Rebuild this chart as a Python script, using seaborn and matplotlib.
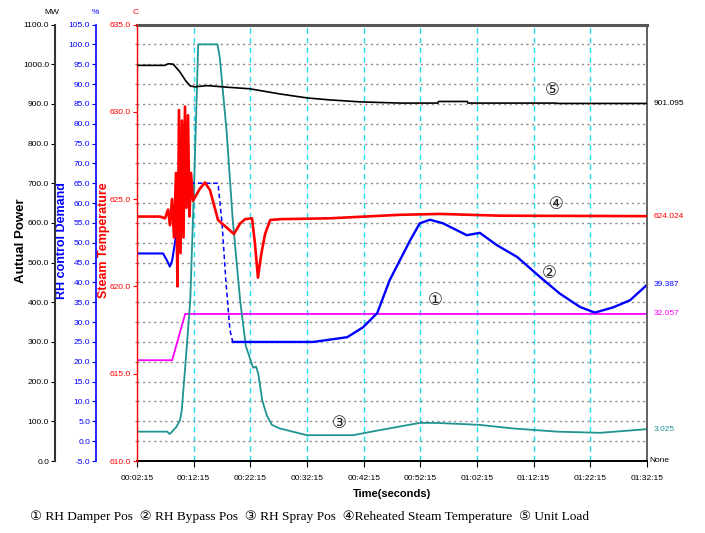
import matplotlib
matplotlib.use("Agg")
import matplotlib.pyplot as plt
import seaborn as sns
from matplotlib import font_manager
from matplotlib.ticker import MultipleLocator, FixedLocator, FormatStrFormatter

# ---------------- data (minutes after 00:02:15) ----------------
tick_minutes = [0, 10, 20, 30, 40, 50, 60, 70, 80, 90]
tick_labels = ["00:02:15", "00:12:15", "00:22:15", "00:32:15", "00:42:15",
               "00:52:15", "01:02:15", "01:12:15", "01:22:15", "01:32:15"]

load_t = [0, 4.9, 5.5, 6.4, 7.6, 8.6, 9.4, 10.2, 12.4, 15.9, 19.9, 25.2, 30.0,
          34.0, 39.4, 46.4, 53.1, 53.2, 58.3, 58.4, 74.0, 74.1, 90]
load_mw = [997, 997, 1001, 1000, 980, 958, 945, 943, 946, 942, 938, 925, 915,
           910, 905, 902, 902, 906, 906, 902, 902, 901.1, 901.095]

temp_t = [0, 4.06, 4.94, 5.47, 5.82, 6.18, 6.53, 6.88, 7.15, 7.41, 7.68, 7.94,
          8.21, 8.47, 8.74, 9.0, 9.26, 9.53, 9.88, 11.1, 12.0, 12.9, 14.3, 15.9,
          17.1, 18.2, 19.06, 20.3, 20.8, 21.35, 21.9, 22.6, 23.5, 25.2, 34.0,
          46.4, 53.5, 64.0, 90]
temp_c = [624.0, 624.0, 623.9, 624.4, 623.5, 625.0, 622.8, 626.5, 620.0, 630.1,
          621.9, 629.5, 622.8, 630.3, 624.5, 629.8, 624.0, 626.5, 624.9, 625.6,
          625.95, 625.5, 623.8, 623.35, 623.0, 623.6, 623.85, 623.9, 622.5,
          620.5, 621.8, 623.0, 623.8, 623.85, 623.9, 624.1, 624.15, 624.05,
          624.024]

bypass_t = [0, 4.6, 5.3, 5.8, 6.2, 6.7, 7.2, 7.8, 8.1, 8.6, 14.3, 15.0, 15.7,
            16.4, 16.9, 25.2, 31.1, 37.1, 39.9, 42.4, 44.6, 46.4, 48.2, 49.9,
            51.7, 54.0, 58.2, 60.5, 63.5, 67.1, 71.1, 74.6, 78.2, 80.8, 84.0,
            87.0, 90]
bypass_pct = [47.3, 47.3, 45.5, 44.0, 45.5, 50, 55, 62, 58, 65, 65, 55, 40,
              28, 25, 25, 25.0, 26.2, 28.7, 32.3, 40.6, 45.6, 50.6, 54.9, 55.8,
              54.9, 51.9, 52.5, 49.4, 46.4, 41.4, 37.2, 33.8, 32.4, 33.7, 35.5,
              39.387]

damper_t = [0, 6.2, 8.5, 90]
damper_pct = [20.4, 20.4, 32.057, 32.057]

spray_t = [0, 5.3, 5.8, 6.9, 7.6, 7.9, 8.6, 9.4, 10.1, 10.8, 14.2, 14.6, 15.8,
           16.9, 18.2, 19.2, 19.9, 20.5, 21.0, 21.4, 22.1, 22.9, 23.8, 25.2,
           30.0, 38.1, 42.9, 49.9, 52.9, 60.5, 66.4, 74.1, 81.7, 90]
spray_pct = [2.4, 2.4, 1.8, 3.5, 5.3, 7.8, 20.4, 35.5, 65.7, 100, 100, 96.8,
             78.3, 55.7, 35.5, 24, 21, 18.5, 18.8, 17, 10.3, 6.5, 4.1, 3.2,
             1.5, 1.5, 2.8, 4.6, 4.6, 4.1, 3.2, 2.4, 2.1, 3.025]

legend_line = ("\u2460 RH Damper Pos  \u2461 RH Bypass Pos  \u2462 RH Spray Pos  "
               "\u2463Reheated Steam Temperature  \u2464 Unit Load")

# ---------------- styling ----------------
names = {f.name for f in font_manager.fontManager.ttflist}
sans = 'Liberation Sans' if 'Liberation Sans' in names else 'DejaVu Sans'
narrow = 'Liberation Sans Narrow' if 'Liberation Sans Narrow' in names else sans
serif = 'Liberation Serif' if 'Liberation Serif' in names else 'DejaVu Serif'
TS = 6.0  # tick label size

C_BLACK = "#000000"
C_RED = "#ff0000"
C_BLUE = "#0000ff"
C_MAG = "#ff00ff"
C_TEAL = "#1f9490"
C_AXBLACK = "#333333"

fig = plt.figure(figsize=(7.05, 5.33), dpi=100)
W, H = 705, 533
L, R, T, B = 137, 647, 24.5, 461
ax = fig.add_axes([L / W, 1 - B / H, (R - L) / W, (B - T) / H])
ax_red = ax.twinx()
ax_black = ax.twinx()
axw = R - L
LABEL_Y = 0.505

# ----- base axes: percent (blue) -----
blue_mask_a = [t <= 7.2 for t in bypass_t]
blue_mask_b = [7.2 <= t <= 16.9 for t in bypass_t]
blue_mask_c = [t >= 16.9 for t in bypass_t]

def sel(vals, mask):
    return [v for v, m in zip(vals, mask) if m]

sns.lineplot(x=damper_t, y=damper_pct, ax=ax, color=C_MAG, linewidth=1.3,
             estimator=None, sort=False)
sns.lineplot(x=spray_t, y=spray_pct, ax=ax, color=C_TEAL, linewidth=1.3,
             estimator=None, sort=False)
sns.lineplot(x=sel(bypass_t, blue_mask_a), y=sel(bypass_pct, blue_mask_a), ax=ax,
             color=C_BLUE, linewidth=1.5, estimator=None, sort=False)
sns.lineplot(x=sel(bypass_t, blue_mask_b), y=sel(bypass_pct, blue_mask_b), ax=ax,
             color=C_BLUE, linewidth=1.1, linestyle=(0, (3, 2)), estimator=None, sort=False)
sns.lineplot(x=sel(bypass_t, blue_mask_c), y=sel(bypass_pct, blue_mask_c), ax=ax,
             color=C_BLUE, linewidth=1.7, estimator=None, sort=False)

ax.set_xlim(0, 90)
ax.set_ylim(-5, 105)
ax.yaxis.set_major_locator(MultipleLocator(5))
ax.yaxis.set_major_formatter(FormatStrFormatter('%.1f'))
ax.yaxis.tick_left()
ax.spines['left'].set_position(('axes', -41 / axw))
ax.spines['left'].set_color(C_BLUE)
ax.spines['left'].set_linewidth(1.2)
ax.spines['top'].set_color("#555555")
ax.spines['top'].set_linewidth(2.2)
ax.spines['right'].set_color("#555555")
ax.spines['right'].set_linewidth(1.3)
ax.spines['bottom'].set_color("#000000")
ax.spines['bottom'].set_linewidth(1.4)
ax.tick_params(axis='y', colors=C_BLUE, labelsize=TS, length=3, width=0.8, pad=1.2)
ax.tick_params(axis='x', colors="#000000", labelsize=TS, length=4, width=0.8, pad=6)
ax.set_xticks(tick_minutes)
ax.set_xticklabels(tick_labels, fontfamily=narrow)
for lab in ax.get_yticklabels():
    lab.set_fontfamily(narrow)
ax.grid(axis='y', color="#8a8a8a", linestyle=(0, (1.5, 2.5)), linewidth=1.0)
ax.grid(axis='x', color="#22e0f0", linestyle=(0, (4, 3)), linewidth=1.0)
ax.set_xlabel("Time(seconds)", fontfamily=narrow, fontsize=8, fontweight='bold', labelpad=5)
ax.set_ylabel("RH control Demand", color=C_BLUE, fontfamily=sans, fontsize=9,
              fontweight='bold')
ax.yaxis.set_label_coords((68 - L) / axw, LABEL_Y)

# ----- red: steam temperature -----
sns.lineplot(x=temp_t, y=temp_c, ax=ax_red, color=C_RED, linewidth=1.9,
             estimator=None, sort=False)
ax_red.set_xlim(0, 90)
ax_red.set_ylim(610, 635)
ax_red.yaxis.tick_left()
ax_red.yaxis.set_label_position('left')
for s in ['right', 'top', 'bottom']:
    ax_red.spines[s].set_visible(False)
ax_red.spines['left'].set_visible(True)
ax_red.spines['left'].set_color(C_RED)
ax_red.spines['left'].set_linewidth(1.0)
ax_red.yaxis.set_major_locator(MultipleLocator(5))
ax_red.yaxis.set_minor_locator(FixedLocator([610 + k * 25 / 22 for k in range(23)]))
ax_red.yaxis.set_major_formatter(FormatStrFormatter('%.1f'))
ax_red.tick_params(axis='y', which='major', colors=C_RED, labelsize=TS, length=3,
                   width=0.8, pad=1.2)
ax_red.tick_params(axis='y', which='minor', colors=C_RED, length=1.5, width=0.6)
for lab in ax_red.get_yticklabels():
    lab.set_fontfamily(narrow)
ax_red.set_ylabel("Steam Temperature", color=C_RED, fontfamily=sans, fontsize=9,
                  fontweight='bold')
ax_red.yaxis.set_label_coords((110 - L) / axw, LABEL_Y)

# ----- black: unit load -----
sns.lineplot(x=load_t, y=load_mw, ax=ax_black, color=C_BLACK, linewidth=1.2,
             estimator=None, sort=False)
ax_black.set_xlim(0, 90)
ax_black.set_ylim(0, 1100)
ax_black.yaxis.tick_left()
ax_black.yaxis.set_label_position('left')
for s in ['right', 'top', 'bottom']:
    ax_black.spines[s].set_visible(False)
ax_black.spines['left'].set_visible(True)
ax_black.spines['left'].set_position(('axes', -82 / axw))
ax_black.spines['left'].set_color(C_AXBLACK)
ax_black.spines['left'].set_linewidth(1.5)
ax_black.yaxis.set_major_locator(MultipleLocator(100))
ax_black.yaxis.set_major_formatter(FormatStrFormatter('%.1f'))
ax_black.tick_params(axis='y', colors="#000000", labelsize=TS, length=3, width=0.8, pad=1.2)
for lab in ax_black.get_yticklabels():
    lab.set_fontfamily(narrow)
ax_black.set_ylabel("Autual Power", color="#000000", fontfamily=sans, fontsize=9.5,
                    fontweight='bold')
ax_black.yaxis.set_label_coords((27 - L) / axw, LABEL_Y)

# ----- end value labels -----
end_specs = [(ax_black, load_t, load_mw, C_BLACK), (ax_red, temp_t, temp_c, C_RED),
             (ax, bypass_t, bypass_pct, C_BLUE), (ax, damper_t, damper_pct, C_MAG),
             (ax, spray_t, spray_pct, C_TEAL)]
for a, xs, ys, c in end_specs:
    a.annotate(f"{ys[-1]:.3f}", xy=(xs[-1], ys[-1]), xytext=(5, 0),
               textcoords='offset points', ha='left', va='center', color=c,
               fontsize=TS, fontfamily=narrow, annotation_clip=False)
ax.annotate("None", xy=(1, 0), xycoords='axes fraction', xytext=(2, 0),
            textcoords='offset points', ha='left', va='center', color="#000000",
            fontsize=TS, fontfamily=narrow, annotation_clip=False)

# ----- circled series markers -----
mk = dict(fontsize=12, ha='center', va='center', color="#222222",
          fontfamily=['DejaVu Sans'])
ax.text(52.6, 35.5, "\u2460", **mk)
ax.text(72.7, 42.3, "\u2461", **mk)
ax.text(35.6, 4.6, "\u2462", **mk)
ax_red.text(73.9, 624.7, "\u2463", **mk)
ax_black.text(73.2, 934, "\u2464", **mk)

# ----- units -----
fig.text(52 / W, 1 - 12 / H, "MW", ha='center', va='center', fontsize=TS,
         fontfamily=narrow, color="#000000")
fig.text(95 / W, 1 - 12 / H, "%", ha='center', va='center', fontsize=TS,
         fontfamily=narrow, color=C_BLUE)
fig.text(136 / W, 1 - 12 / H, "C", ha='center', va='center', fontsize=TS,
         fontfamily=narrow, color=C_RED)

# ----- bottom legend line -----
fig.text(30 / W, 1 - 517 / H, legend_line, ha='left', va='center', fontsize=9.6,
         fontfamily=[serif, 'DejaVu Sans'], color="#000000")

fig.savefig("out.png", dpi=100)
